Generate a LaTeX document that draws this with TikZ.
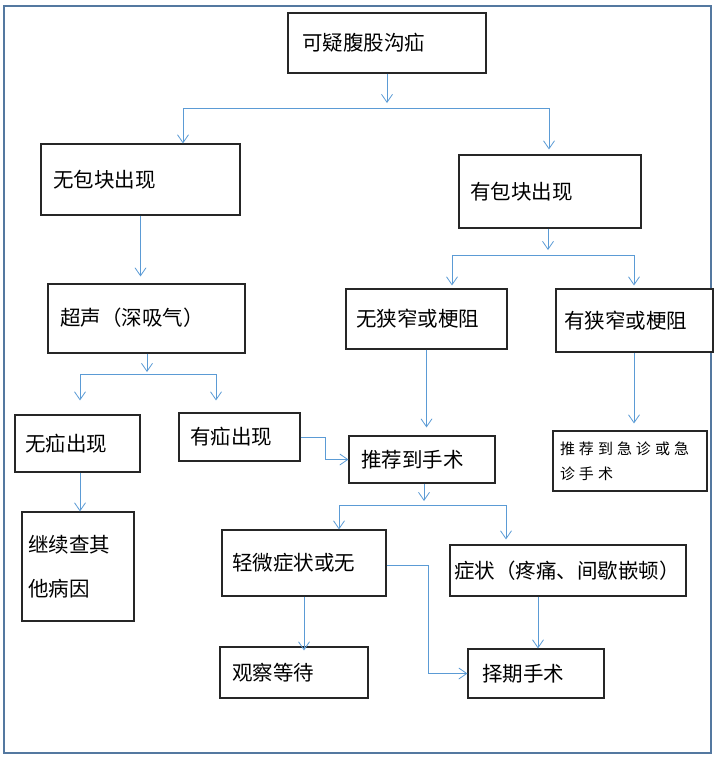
\documentclass[tikz,border=0pt]{standalone}
\usepackage{fontspec}
\newfontfamily\cjk{Noto Sans CJK SC}
\usetikzlibrary{arrows.meta}
\definecolor{lineblue}{RGB}{91,155,213}
\definecolor{frameblue}{RGB}{84,120,160}
\tikzset{
  box/.style={draw=black!85, line width=1.1pt, fill=white, inner sep=0pt, font=\cjk\fontsize{20.5}{24}\selectfont, align=left},
  conn/.style={draw=lineblue, line width=0.9pt},
  arr/.style={conn, -{Straight Barb[length=8pt,width=11pt,line width=0.8pt]}},
}
\newcommand{\boxat}[7]{% name, cx, cy, w, h, padding, text
  \node[box, minimum width=#4pt, minimum height=#5pt, text width=#4pt-2*#6pt] (#1) at (#2,#3) {#7};}
\begin{document}
\begin{tikzpicture}[x=1pt,y=-1pt]
\useasboundingbox (0,0) rectangle (717,760);
\draw[draw=frameblue, line width=2pt] (3.5,6) rectangle (710.5,753);
% boxes
\boxat{top}{387}{43}{198}{60}{14}{可疑腹股沟疝}
\boxat{nobump}{140.5}{179.5}{199}{71}{12}{无包块出现}
\boxat{bump}{550}{191.5}{182}{73}{11}{\raisebox{2pt}{有包块出现}}
\boxat{us}{146.5}{318.5}{197}{69}{12}{\raisebox{3pt}{超声（深吸气）}}
\boxat{nonarrow}{426.5}{319}{161}{60}{10}{无狭窄或梗阻}
\boxat{narrow}{634.5}{320.5}{157}{63}{8}{有狭窄或梗阻}
\boxat{noh}{77.5}{443.5}{125}{57}{10}{无疝出现}
\boxat{hasH}{239.5}{437}{121}{48}{11}{有疝出现}
\boxat{refer}{422}{459.5}{146}{47}{12}{\raisebox{-7pt}{推荐到手术}}
\node[box, minimum width=154pt, minimum height=60pt, text width=140pt, font=\cjk\fontsize{15}{25}\selectfont] (emerg) at (630,461) {推\kern4pt荐\kern4pt到\kern4pt急\kern4pt诊\kern4pt或\kern4pt急\\诊\kern4pt手\kern4pt术};
\node[box, minimum width=112pt, minimum height=109pt, text width=100pt, font=\cjk\fontsize{20.5}{44}\selectfont] (other) at (78,566.5) {继续查其\\他病因};
\boxat{mild}{304}{563}{164}{66}{10}{轻微症状或无}
\node[box, minimum width=236pt, minimum height=51pt, text width=228pt] (sympt) at (568,570.5) {症状（疼痛、间歇嵌顿）};
\boxat{watch}{294}{672.5}{148}{51}{12}{\raisebox{-4pt}{观察等待}}
\boxat{surg}{536}{673.5}{136}{49}{14}{\raisebox{-4pt}{择期手术}}
% junction coordinates
\coordinate (j1) at (387,103);
\coordinate (h1L) at (183,108);
\coordinate (h1R) at (549,108);
\coordinate (j2) at (548,250);
\coordinate (h2L) at (452,255);
\coordinate (h2R) at (634,255);
\coordinate (j3) at (147,372);
\coordinate (h3L) at (80,374);
\coordinate (h3R) at (216,374);
\coordinate (j4) at (424,501);
\coordinate (h4L) at (339,505);
\coordinate (h4R) at (506,505);
% connectors
\draw[arr] (top.south) -- (j1);
\draw[conn] (h1L) -- (h1R);
\draw[arr] (h1L) -- (h1L |- nobump.north);
\draw[arr] (h1R) -- ([yshift=5pt]h1R |- bump.north);
\draw[arr] (nobump.south) -- ([yshift=7pt]nobump.south |- us.north);
\draw[arr] (bump.south -| j2) -- (j2);
\draw[conn] (h2L) -- (h2R);
\draw[arr] (h2L) -- ([yshift=3pt]h2L |- nonarrow.north);
\draw[arr] (h2R) -- ([yshift=3pt]h2R |- narrow.north);
\draw[arr] (us.south -| j3) -- (j3);
\draw[conn] (h3L) -- (h3R);
\draw[arr] (h3L) -- ([yshift=14pt]h3L |- noh.north);
\draw[arr] (h3R) -- ([yshift=12pt]h3R |- hasH.north);
\draw[arr] (noh.south -| h3L) -- (h3L |- other.north);
\draw[arr] (hasH.east) -- ++(25,0) |- (refer.west);
\draw[arr] (nonarrow.south) -- ([yshift=8pt]nonarrow.south |- refer.north);
\draw[arr] (narrow.south -| h2R) -- ([yshift=7pt]h2R |- emerg.north);
\draw[arr] (refer.south -| j4) -- (j4);
\draw[conn] (h4L) -- (h4R);
\draw[arr] (h4L) -- (h4L |- mild.north);
\draw[arr] (h4R) -- ([yshift=5pt]h4R |- sympt.north);
\draw[arr] ([yshift=-2pt]mild.east) -- ++(42,0) |- (surg.west);
\draw[arr] (mild.south) -- ([yshift=-4pt]mild.south |- watch.north);
\draw[arr] (sympt.south -| 538,0) -- (538,0 |- surg.north);
\end{tikzpicture}
\end{document}
